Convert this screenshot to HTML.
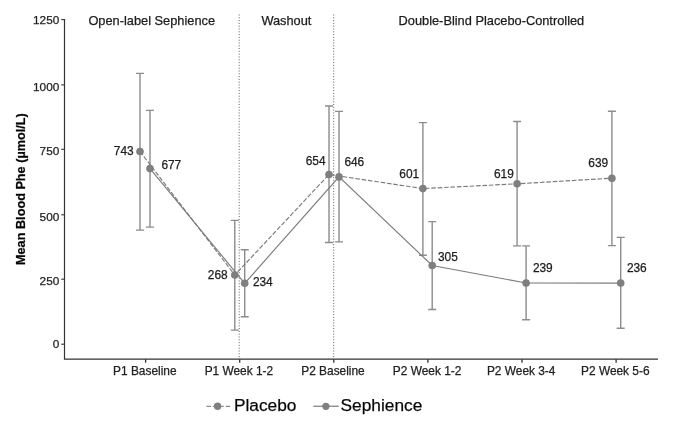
<!DOCTYPE html>
<html><head><meta charset="utf-8"><title>Mean Blood Phe</title>
<style>html,body{margin:0;padding:0;background:#fff}svg{display:block}text{font-family:"Liberation Sans",sans-serif;stroke:#222;stroke-width:0.25px}</style></head><body>
<svg width="673" height="425" viewBox="0 0 673 425">
<rect width="673" height="425" fill="#fff"/>
<line x1="239.2" y1="14.5" x2="239.2" y2="359" stroke="#4a4a4a" stroke-width="0.9" stroke-dasharray="1 1.8"/>
<line x1="333.7" y1="14.5" x2="333.7" y2="359" stroke="#4a4a4a" stroke-width="0.9" stroke-dasharray="1 1.8"/>
<path d="M136.0 73.4H144.0M140.0 73.4V230.1M136.0 230.1H144.0" fill="none" stroke="#8c8c8c" stroke-width="1.4"/>
<path d="M146.0 110.4H154.0M150.0 110.4V227.1M146.0 227.1H154.0" fill="none" stroke="#8c8c8c" stroke-width="1.4"/>
<path d="M230.8 220.4H238.8M234.8 220.4V330.1M230.8 330.1H238.8" fill="none" stroke="#8c8c8c" stroke-width="1.4"/>
<path d="M240.7 249.7H248.7M244.7 249.7V316.8M240.7 316.8H248.7" fill="none" stroke="#8c8c8c" stroke-width="1.4"/>
<path d="M325.0 106.0H333.0M329.0 106.0V242.5M325.0 242.5H333.0" fill="none" stroke="#8c8c8c" stroke-width="1.4"/>
<path d="M335.0 111.4H343.0M339.0 111.4V241.9M335.0 241.9H343.0" fill="none" stroke="#8c8c8c" stroke-width="1.4"/>
<path d="M418.9 122.6H426.9M422.9 122.6V255.2M418.9 255.2H426.9" fill="none" stroke="#8c8c8c" stroke-width="1.4"/>
<path d="M428.2 221.6H436.2M432.2 221.6V309.5M428.2 309.5H436.2" fill="none" stroke="#8c8c8c" stroke-width="1.4"/>
<path d="M513.1 121.5H521.1M517.1 121.5V245.9M513.1 245.9H521.1" fill="none" stroke="#8c8c8c" stroke-width="1.4"/>
<path d="M522.1 245.9H530.1M526.1 245.9V319.8M522.1 319.8H530.1" fill="none" stroke="#8c8c8c" stroke-width="1.4"/>
<path d="M607.9 111.2H615.9M611.9 111.2V245.6M607.9 245.6H615.9" fill="none" stroke="#8c8c8c" stroke-width="1.4"/>
<path d="M616.7 237.4H624.7M620.7 237.4V328.2M616.7 328.2H624.7" fill="none" stroke="#8c8c8c" stroke-width="1.4"/>
<polyline points="140.0,151.5 234.8,275.0 329.0,174.5 422.9,188.6 517.1,183.8 611.9,178.2" fill="none" stroke="#7b7b7b" stroke-width="1.15" stroke-dasharray="4.6 1.8"/>
<polyline points="150.0,168.6 244.7,283.3 339.0,176.9 432.2,265.5 526.1,283.0 620.7,283.1" fill="none" stroke="#7b7b7b" stroke-width="1.15"/>
<circle cx="140.0" cy="151.5" r="3.8" fill="#7f7f7f"/>
<circle cx="150.0" cy="168.6" r="3.8" fill="#7f7f7f"/>
<circle cx="234.8" cy="275.0" r="3.8" fill="#7f7f7f"/>
<circle cx="244.7" cy="283.3" r="3.8" fill="#7f7f7f"/>
<circle cx="329.0" cy="174.5" r="3.8" fill="#7f7f7f"/>
<circle cx="339.0" cy="176.9" r="3.8" fill="#7f7f7f"/>
<circle cx="422.9" cy="188.6" r="3.8" fill="#7f7f7f"/>
<circle cx="432.2" cy="265.5" r="3.8" fill="#7f7f7f"/>
<circle cx="517.1" cy="183.8" r="3.8" fill="#7f7f7f"/>
<circle cx="526.1" cy="283.0" r="3.8" fill="#7f7f7f"/>
<circle cx="611.9" cy="178.2" r="3.8" fill="#7f7f7f"/>
<circle cx="620.7" cy="283.1" r="3.8" fill="#7f7f7f"/>
<path d="M64.5 19V359.2H658" fill="none" stroke="#333333" stroke-width="1.2"/>
<line x1="61.2" x2="64.5" y1="344.20" y2="344.20" stroke="#333333" stroke-width="1.1"/>
<text x="59.3" y="348.30" font-size="11.8" fill="#222" text-anchor="end">0</text>
<line x1="61.2" x2="64.5" y1="279.20" y2="279.20" stroke="#333333" stroke-width="1.1"/>
<text x="59.3" y="284.60" font-size="11.8" fill="#222" text-anchor="end">250</text>
<line x1="61.2" x2="64.5" y1="214.80" y2="214.80" stroke="#333333" stroke-width="1.1"/>
<text x="59.3" y="220.60" font-size="11.8" fill="#222" text-anchor="end">500</text>
<line x1="61.2" x2="64.5" y1="149.30" y2="149.30" stroke="#333333" stroke-width="1.1"/>
<text x="59.3" y="154.50" font-size="11.8" fill="#222" text-anchor="end">750</text>
<line x1="61.2" x2="64.5" y1="84.90" y2="84.90" stroke="#333333" stroke-width="1.1"/>
<text x="59.3" y="90.50" font-size="11.8" fill="#222" text-anchor="end">1000</text>
<line x1="61.2" x2="64.5" y1="19.60" y2="19.60" stroke="#333333" stroke-width="1.1"/>
<text x="59.3" y="24.15" font-size="11.8" fill="#222" text-anchor="end">1250</text>
<line x1="145.60" x2="145.60" y1="359.2" y2="362.7" stroke="#333333" stroke-width="1.3"/>
<text x="144.80" y="374.8" font-size="11.9" fill="#222" text-anchor="middle">P1 Baseline</text>
<line x1="239.70" x2="239.70" y1="359.2" y2="362.7" stroke="#333333" stroke-width="1.3"/>
<text x="238.90" y="374.8" font-size="11.9" fill="#222" text-anchor="middle">P1 Week 1-2</text>
<line x1="333.80" x2="333.80" y1="359.2" y2="362.7" stroke="#333333" stroke-width="1.3"/>
<text x="333.00" y="374.8" font-size="11.9" fill="#222" text-anchor="middle">P2 Baseline</text>
<line x1="427.90" x2="427.90" y1="359.2" y2="362.7" stroke="#333333" stroke-width="1.3"/>
<text x="427.10" y="374.8" font-size="11.9" fill="#222" text-anchor="middle">P2 Week 1-2</text>
<line x1="522.00" x2="522.00" y1="359.2" y2="362.7" stroke="#333333" stroke-width="1.3"/>
<text x="521.20" y="374.8" font-size="11.9" fill="#222" text-anchor="middle">P2 Week 3-4</text>
<line x1="616.10" x2="616.10" y1="359.2" y2="362.7" stroke="#333333" stroke-width="1.3"/>
<text x="615.30" y="374.8" font-size="11.9" fill="#222" text-anchor="middle">P2 Week 5-6</text>
<text transform="translate(25.2 189.1) rotate(-90)" font-size="12.7" font-weight="bold" fill="#000" text-anchor="middle">Mean Blood Phe (µmol/L)</text>
<text x="151.7" y="25.4" font-size="12.8" fill="#1a1a1a" text-anchor="middle">Open-label Sephience</text>
<text x="286.4" y="25.4" font-size="12.8" fill="#1a1a1a" text-anchor="middle">Washout</text>
<text x="491.4" y="25.4" font-size="12.8" fill="#1a1a1a" text-anchor="middle">Double-Blind Placebo-Controlled</text>
<text x="113.8" y="155.2" font-size="11.9" fill="#1a1a1a">743</text>
<text x="161.4" y="169.4" font-size="11.9" fill="#1a1a1a">677</text>
<text x="207.8" y="279.3" font-size="11.9" fill="#1a1a1a">268</text>
<text x="252.9" y="286.4" font-size="11.9" fill="#1a1a1a">234</text>
<text x="305.7" y="164.9" font-size="11.9" fill="#1a1a1a">654</text>
<text x="344.4" y="166.3" font-size="11.9" fill="#1a1a1a">646</text>
<text x="399.3" y="178.2" font-size="11.9" fill="#1a1a1a">601</text>
<text x="438.0" y="260.7" font-size="11.9" fill="#1a1a1a">305</text>
<text x="494.0" y="178.1" font-size="11.9" fill="#1a1a1a">619</text>
<text x="532.9" y="272.3" font-size="11.9" fill="#1a1a1a">239</text>
<text x="588.3" y="166.6" font-size="11.9" fill="#1a1a1a">639</text>
<text x="626.9" y="272.2" font-size="11.9" fill="#1a1a1a">236</text>
<line x1="206.4" x2="230.3" y1="406.3" y2="406.3" stroke="#8e8e8e" stroke-width="1.3" stroke-dasharray="4.6 1.8"/>
<circle cx="217.6" cy="406.3" r="3.7" fill="#7f7f7f"/>
<text x="234" y="411.4" font-size="17.3" fill="#000">Placebo</text>
<line x1="313.3" x2="338.8" y1="406.3" y2="406.3" stroke="#8e8e8e" stroke-width="1.4"/>
<circle cx="325.9" cy="406.3" r="3.6" fill="#7f7f7f"/>
<text x="340.6" y="411.4" font-size="17.3" fill="#000">Sephience</text>
</svg></body></html>
